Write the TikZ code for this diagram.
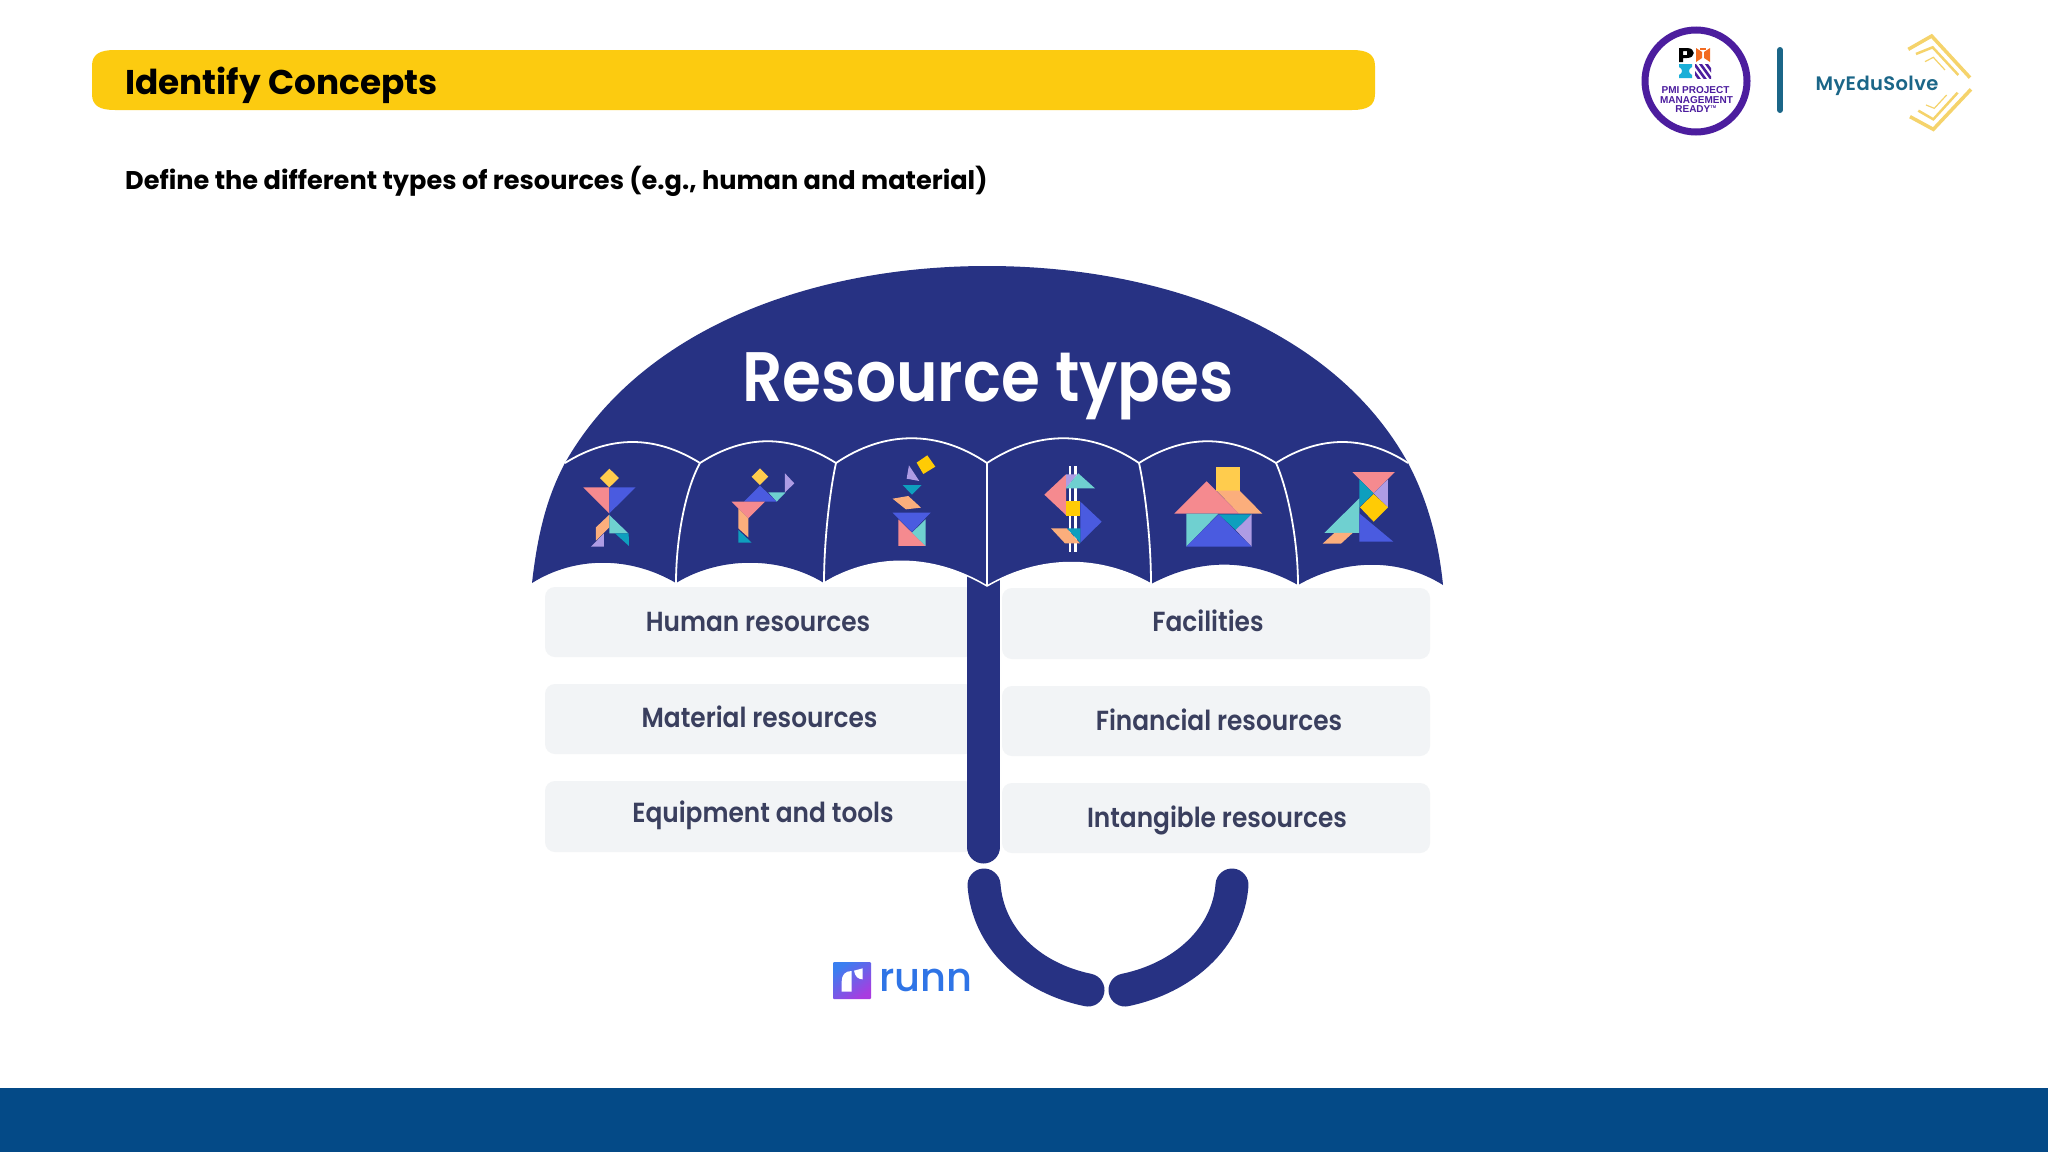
\documentclass[tikz,border=0pt]{standalone}
\usepackage{fontspec}
\setmainfont{Poppins}
\newfontfamily\popm{Poppins Medium}
\newfontfamily\pops[FakeStretch=0.9]{Poppins SemiBold}
\newfontfamily\lib{Liberation Sans}
\newfontfamily\spaced[LetterSpace=2]{Poppins SemiBold}
\definecolor{navy}{HTML}{273283}
\definecolor{foot}{HTML}{044A87}
\definecolor{bar}{HTML}{FCCB10}
\definecolor{boxc}{HTML}{F2F4F6}
\definecolor{lab}{HTML}{3A3F5E}
\definecolor{pmip}{HTML}{4C1D9E}
\definecolor{tealb}{HTML}{1B6688}
\definecolor{chev}{HTML}{F5D36B}
\definecolor{tY}{HTML}{FFCC4D}
\definecolor{tS}{HTML}{F58A8F}
\definecolor{tB}{HTML}{4A5BE0}
\definecolor{tT}{HTML}{6FD0D0}
\definecolor{tD}{HTML}{0E9FBE}
\definecolor{tO}{HTML}{FBAE7C}
\definecolor{tL}{HTML}{AE9CE4}
\definecolor{tG}{HTML}{FFCB05}
\definecolor{runnb}{HTML}{2F74E6}
\definecolor{pmio}{HTML}{F26B21}
\definecolor{pmic}{HTML}{1AAFD8}
\tikzset{
 labelbox/.style={fill=boxc,rounded corners=10pt},
 lab text/.style={anchor=base,text=lab,font=\pops\fontsize{27.6}{30}\selectfont,inner sep=0pt},
 rib/.style={draw=white,line width=1.8pt},
 pole/.style={line width=33pt,draw=navy,line cap=round},
 chv/.style={draw=chev,line join=miter},
}
\newcommand{\tp}[2]{\fill[#1] #2 -- cycle;}
\begin{document}
\begin{tikzpicture}[x=1pt,y=-1pt]
\useasboundingbox (0,0) rectangle (2048,1152);
\fill[white] (0,0) rectangle (2048,1152);
\fill[foot] (0,1088) rectangle (2048,1152);
\fill[bar] (92,66) .. controls (92,54) and (100,50) .. (115,50) -- (1352,50) .. controls (1367,50) and (1375,54) .. (1375,66) -- (1375,94) .. controls (1375,106) and (1367,110) .. (1352,110) -- (115,110) .. controls (100,110) and (92,106) .. (92,94) -- cycle;
\node[anchor=base west,inner sep=0pt,font=\bfseries\fontsize{34.3}{40}\selectfont] (title) at (125,94) {Identify Concepts};
\node[anchor=base west,inner sep=0pt,font=\bfseries\fontsize{25.6}{30}\selectfont] (sub) at (125,189) {Define the different types of resources (e.g., human and material)};
% PMI logo
\draw[pmip,line width=7pt] (1696,81) circle (51);
\fill[black,even odd rule] (1679,48) -- (1687,48) .. controls (1696,48) and (1696,58) .. (1687,58) -- (1683,58) -- (1683,62) -- (1679,62) -- cycle (1683,51) rectangle (1687,55);
\fill[pmio] (1696,48) -- (1702,52) -- (1702,58) -- (1696,62) -- cycle;
\fill[pmio] (1710,48) -- (1704,52) -- (1704,58) -- (1710,62) -- cycle;
\fill[pmio] (1700,48) rectangle (1706,50);
\fill[pmic] (1679,64) -- (1692,64) -- (1692,67) .. controls (1688,69) and (1688,73) .. (1692,75) -- (1692,78) -- (1679,78) -- (1679,75) .. controls (1683,73) and (1683,69) .. (1679,67) -- cycle;
\begin{scope}
 \clip (1695,64) rectangle (1711,78);
 \draw[pmip,line width=2.6pt] (1693,62) -- (1706,80);
 \draw[pmip,line width=2.6pt] (1699,62) -- (1712,80);
 \draw[pmip,line width=2.6pt] (1705,62) -- (1718,80);
 \draw[pmip,line width=2.6pt] (1687,62) -- (1700,80);
\end{scope}
\node[anchor=base,inner sep=0pt,text=pmip,font=\lib\bfseries\fontsize{10}{11}\selectfont] (pmi1) at (1695.5,93) {PMI PROJECT};
\node[anchor=base,inner sep=0pt,text=pmip,font=\lib\bfseries\fontsize{10}{11}\selectfont] (pmi2) at (1696.5,103) {MANAGEMENT};
\node[anchor=base,inner sep=0pt,text=pmip,font=\lib\bfseries\fontsize{10}{11}\selectfont] (pmi3) at (1696,112.5) {READY\textsuperscript{\fontsize{4}{4}\selectfont TM}};
\draw[tealb,line width=6pt,line cap=round] (1780,50) -- (1780,110);
\node[anchor=base,inner sep=0pt,text=tealb,font=\spaced\fontsize{19.5}{24}\selectfont] (mes) at (1877,90) {MyEduSolve};
\begin{scope}[shift={(1600,10)},scale=0.3333]
 \draw[chv,line width=3.5pt] (925,118) -- (995,78) -- (1110,203);
 \draw[chv,line width=2.5pt] (948,132) -- (998,112) -- (1075,195);
 \draw[chv,line width=1.2pt] (975,155) -- (1000,142) -- (1035,180);
 \draw[chv,line width=3.5pt] (930,320) -- (1000,358) -- (1113,238);
 \draw[chv,line width=2.5pt] (955,302) -- (1000,328) -- (1073,248);
 \draw[chv,line width=1.2pt] (978,285) -- (1003,295) -- (1040,255);
\end{scope}
% label boxes
\fill[labelbox] (545,587) rectangle (975,657);
\fill[labelbox] (545,684) rectangle (975,754);
\fill[labelbox] (545,781) rectangle (975,852);
\fill[labelbox] (1002,588) rectangle (1430,659);
\fill[labelbox] (1002,686) rectangle (1430,756);
\fill[labelbox] (1002,783) rectangle (1430,853);
\node[lab text] (t1) at (758,631) {Human resources};
\node[lab text] (t2) at (759.5,727) {Material resources};
\node[lab text] (t3) at (763,822) {Equipment and tools};
\node[lab text] (t4) at (1208,631) {Facilities};
\node[lab text] (t5) at (1219,730) {Financial resources};
\node[lab text] (t6) at (1217,827) {Intangible resources};
% pole and hook
\draw[pole] (983.5,575) -- (983.5,847);
\draw[pole] (984,885) .. controls (988,938) and (1030,978) .. (1088,990);
\draw[pole] (1232,885) .. controls (1228,938) and (1183,978) .. (1125,990);
% canopy
\fill[navy] (532,583) .. controls (538,530) and (548,495) .. (565,463) .. controls (640,330) and (810,266) .. (987,266) .. controls (1165,266) and (1335,330) .. (1408,463) .. controls (1425,495) and (1438,535) .. (1443,585)
 .. controls (1400,558) and (1345,558) .. (1298,585)
 .. controls (1250,558) and (1200,558) .. (1151,584)
 .. controls (1100,555) and (1040,555) .. (987,586)
 .. controls (930,552) and (870,555) .. (824,583)
 .. controls (780,556) and (720,556) .. (676,583)
 .. controls (630,556) and (575,556) .. (532,583) -- cycle;
\draw[white,line width=1.5pt] (1151,584) .. controls (1100,555) and (1040,555) .. (987,586) .. controls (930,552) and (870,555) .. (824,583);
\draw[rib] (565,463) .. controls (610,435) and (655,435) .. (700,463);
\draw[rib] (700,463) .. controls (745,434) and (790,434) .. (836,463);
\draw[rib] (836,463) .. controls (885,430) and (938,430) .. (987,463);
\draw[rib] (987,463) .. controls (1037,430) and (1090,430) .. (1139,463);
\draw[rib] (1139,463) .. controls (1185,434) and (1230,434) .. (1276,463);
\draw[rib] (1276,463) .. controls (1320,435) and (1365,435) .. (1408,463);
\draw[rib] (700,463) .. controls (685,490) and (676,540) .. (676,583);
\draw[rib] (836,463) .. controls (830,490) and (824,540) .. (824,583);
\draw[rib] (987,463) -- (987,586);
\draw[rib] (1139,463) .. controls (1145,490) and (1151,540) .. (1151,584);
\draw[rib] (1276,463) .. controls (1288,490) and (1298,540) .. (1298,585);
\node[anchor=base,inner sep=0pt,text=white,font=\pops\fontsize{70}{72}\selectfont] (head) at (988,401) {Resource types};
% tangrams left
\begin{scope}[shift={(520,420)},scale=0.3333]
 \tp{tY}{(268,146) -- (297,174) -- (268,202) -- (240,174)}
 \tp{tS}{(190,202) -- (268,202) -- (268,280)}
 \tp{tB}{(268,202) -- (347,202) -- (268,280)}
 \tp{tO}{(268,284) -- (268,322) -- (228,362) -- (228,322)}
 \tp{tL}{(252,340) -- (252,380) -- (213,380)}
 \tp{tT}{(268,285) -- (325,340) -- (268,340)}
 \tp{tD}{(285,340) -- (326,340) -- (327,378)}
 \tp{tY}{(720,145) -- (745,170) -- (720,195) -- (695,170)}
 \tp{tL}{(795,160) -- (823,190) -- (795,217)}
 \tp{tT}{(745,217) -- (797,217) -- (770,245)}
 \tp{tB}{(672,245) -- (720,197) -- (770,245)}
 \tp{tS}{(635,245) -- (735,245) -- (685,295)}
 \tp{tO}{(655,265) -- (685,295) -- (685,352) -- (655,325)}
 \tp{tD}{(655,330) -- (695,368) -- (655,368)}
 \tp{tG}{(1222,106) -- (1246,140) -- (1210,162) -- (1190,128)}
 \tp{tL}{(1167,136) -- (1198,183) -- (1160,176)}
 \tp{tD}{(1148,195) -- (1205,195) -- (1176,224)}
 \tp{tO}{(1118,236) -- (1165,228) -- (1203,263) -- (1158,268)}
 \tp{tS}{(1135,298) -- (1217,378) -- (1135,378)}
 \tp{tT}{(1217,298) -- (1217,378) -- (1176,338)}
 \tp{tB}{(1118,278) -- (1232,278) -- (1176,336)}
\end{scope}
% tangrams right
\begin{scope}[shift={(980,420)},scale=0.3333]
 \fill[white] (266,137) rectangle (274,396);
 \fill[white] (283,137) rectangle (291,396);
 \tp{tS}{(258,163) -- (258,285) -- (193,224)}
 \tp{tL}{(258,163) -- (292,163) -- (258,205)}
 \tp{tT}{(257,205) -- (295,160) -- (345,205)}
 \tp{tB}{(301,245) -- (365,305) -- (301,368)}
 \tp{tG}{(257,243) -- (301,243) -- (301,288) -- (257,288)}
 \tp{tD}{(301,325) -- (301,368) -- (260,325)}
 \tp{tO}{(213,325) -- (260,325) -- (300,370) -- (255,370)}
 \tp{tY}{(709,142) -- (779,142) -- (779,212) -- (709,212)}
 \tp{tO}{(710,212) -- (779,212) -- (847,281) -- (777,281)}
 \tp{tS}{(583,281) -- (680,184) -- (777,281)}
 \tp{tT}{(619,281) -- (715,281) -- (619,380)}
 \tp{tD}{(716,283) -- (815,283) -- (767,330)}
 \tp{tL}{(815,283) -- (815,380) -- (767,330)}
 \tp{tB}{(619,380) -- (716,283) -- (815,380)}
 \tp{tS}{(1117,156) -- (1245,156) -- (1181,220)}
 \tp{tD}{(1138,178) -- (1181,220) -- (1138,262)}
 \tp{tL}{(1224,178) -- (1224,262) -- (1181,220)}
 \tp{tG}{(1181,222) -- (1224,262) -- (1181,305) -- (1140,262)}
 \tp{tT}{(1033,339) -- (1138,235) -- (1138,339)}
 \tp{tB}{(1138,280) -- (1240,365) -- (1138,365)}
 \tp{tO}{(1063,339) -- (1118,339) -- (1083,371) -- (1028,371)}
\end{scope}
% runn logo
\definecolor{rA}{HTML}{3A7FF0}
\definecolor{rB}{HTML}{A83CE0}
\shade[top color=rA,bottom color=rB,shading angle=35,rounded corners=1pt] (833,962) rectangle (871,999);
\begin{scope}[shift={(800,840)},scale=0.3333]
 \fill[white] (125,455) -- (125,425) .. controls (125,405) and (135,393) .. (155,393) -- (155,455) -- cycle;
 \fill[white] (162,392) -- (188,385) -- (188,418) .. controls (175,418) and (165,410) .. (162,392) -- cycle;
\end{scope}
\node[anchor=base west,inner sep=0pt,text=runnb,font=\popm\fontsize{40}{44}\selectfont] (runn) at (879,991) {runn};
\end{tikzpicture}
\end{document}
